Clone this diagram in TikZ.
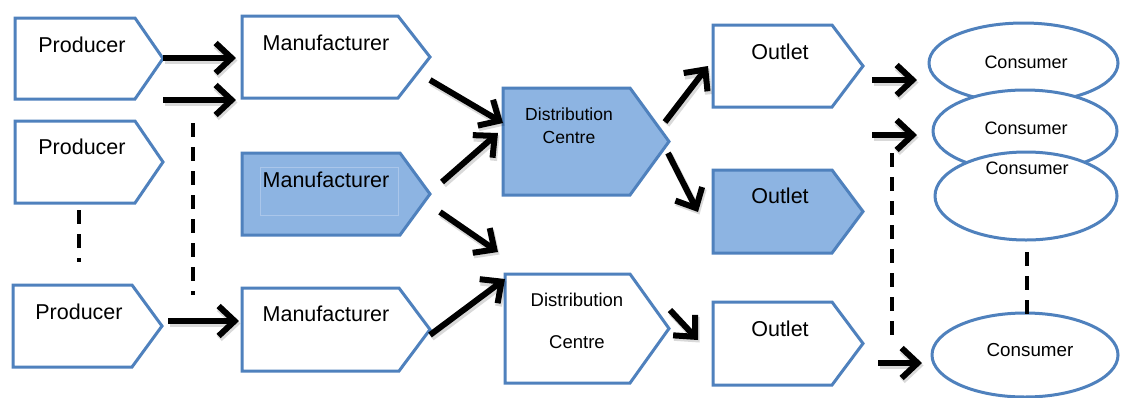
\documentclass[tikz,border=0pt]{standalone}
\usepackage{fontspec}
\setmainfont{Liberation Sans}
\usetikzlibrary{arrows.meta}

\definecolor{boxline}{RGB}{79,129,189}
\definecolor{boxfill}{RGB}{141,180,226}
\definecolor{innerline}{RGB}{170,198,234}

% pentagon "chevron" box: style, left, top, shoulder x, tip x, bottom
\newcommand\chevbox[6]{%
  \draw[#1] (#2,#3) -- (#4,#3) -- (#5,{(#3+#6)/2}) -- (#4,#6) -- (#2,#6) -- cycle;}

% thick flow arrow with a soft shadow
\newcommand\flow[2]{%
  \draw[flowshadow] ([shift={(1.5,2.5)}]#1) -- ([shift={(1.5,2.5)}]#2);
  \draw[flowarrow] (#1) -- (#2);}

\tikzset{
  plainbox/.style={draw=boxline, line width=3pt, fill=white, line join=miter},
  shadedbox/.style={draw=boxline, line width=3pt, fill=boxfill, line join=miter},
  consumer/.style={draw=boxline, line width=3pt, fill=white},
  flowarrow/.style={line width=6pt, -{Straight Barb[length=16pt,width=30pt]}},
  flowshadow/.style={line width=7pt, draw=black, opacity=0.15,
    -{Straight Barb[length=16pt,width=30pt]}},
  continues/.style={line width=4pt, dash pattern=on 14pt off 10pt},
  bigtxt/.style={font=\fontsize{21.5}{24}\selectfont, inner sep=0pt},
  midtxt/.style={font=\fontsize{18}{22}\selectfont, inner sep=0pt, align=center},
}

\begin{document}
\begin{tikzpicture}[x=1pt, y=-1pt]
\useasboundingbox (0,0) rectangle (1123,397);
\fill[white] (0,0) rectangle (1123,397);

% producers
\chevbox{plainbox}{15}{18}{135}{163}{99}
\chevbox{plainbox}{15}{121}{135}{163}{203}
\chevbox{plainbox}{13}{285}{132}{162}{367}
\node[bigtxt] (prod1) at (82,45) {Producer};
\node[bigtxt] (prod2) at (82,147) {Producer};
\node[bigtxt] (prod3) at (79,312) {Producer};

% manufacturers
\chevbox{plainbox}{242}{16}{398}{430}{98}
\chevbox{shadedbox}{242}{153}{400}{430}{235}
\chevbox{plainbox}{242}{288}{399}{430}{371}
\draw[innerline, line width=1pt] (260,167) rectangle (398,215);
\node[bigtxt] (man1) at (326,43) {Manufacturer};
\node[bigtxt] (man2) at (326,180) {Manufacturer};
\node[bigtxt] (man3) at (326,314) {Manufacturer};

% distribution centres
\chevbox{shadedbox}{503}{88}{630}{669}{195}
\chevbox{plainbox}{505}{274}{630}{669}{383}
\node[midtxt, font=\fontsize{17.5}{23}\selectfont] (dc1) at (569,125.5)
  {Distribution\\Centre};
\node[midtxt, font=\fontsize{18.5}{42}\selectfont] (dc2) at (577,321)
  {Distribution\\Centre};

% outlets
\chevbox{plainbox}{713}{25}{832}{863}{107}
\chevbox{shadedbox}{713}{170}{832}{863}{253}
\chevbox{plainbox}{713}{302}{832}{863}{385}
\node[bigtxt] (out1) at (780,52) {Outlet};
\node[bigtxt] (out2) at (780,196) {Outlet};
\node[bigtxt] (out3) at (780,329) {Outlet};

% consumers, stacked so each one covers the lower edge of the one above
\draw[consumer] (1023.5,63) ellipse [x radius=94.5, y radius=40];
\draw[consumer] (1025,131) ellipse [x radius=92, y radius=41];
\draw[consumer] (1026,196) ellipse [x radius=91, y radius=44];
\draw[consumer] (1025,355) ellipse [x radius=93, y radius=42];
\node[midtxt] (con1) at (1026,62) {Consumer};
\node[midtxt] (con2) at (1026,128) {Consumer};
\node[midtxt] (con3) at (1027,168) {Consumer};
\node[midtxt, font=\fontsize{18.8}{22}\selectfont] (con4) at (1030,350) {Consumer};

% connector end points
\coordinate (p1a) at (163,58);   \coordinate (m1a) at (236,58);
\coordinate (p1b) at (163,100);  \coordinate (m1b) at (236,100);
\coordinate (p3a) at (168,321);  \coordinate (m3a) at (239,321);
\coordinate (m1c) at (430,80);   \coordinate (d1a) at (503,123);
\coordinate (m2a) at (442,182);  \coordinate (d1b) at (498,133);
\coordinate (m2b) at (440,212);  \coordinate (d2x) at (498,252);
\coordinate (m3b) at (430,335);  \coordinate (d2a) at (505,279);
\coordinate (d1c) at (665,122);  \coordinate (o1a) at (708,66);
\coordinate (d1d) at (668,153);  \coordinate (o2a) at (698,212);
\coordinate (d2b) at (670,310);  \coordinate (o3a) at (698,340);
\coordinate (o1b) at (872,80);   \coordinate (c1a) at (917,80);
\coordinate (o1c) at (872,135);  \coordinate (c2a) at (917,135);
\coordinate (o3b) at (878,363);  \coordinate (c4a) at (922,363);

% flows
\flow{p1a}{m1a}
\flow{p1b}{m1b}
\flow{p3a}{m3a}
\flow{m1c}{d1a}
\flow{m2a}{d1b}
\flow{m2b}{d2x}
\flow{m3b}{d2a}
\flow{d1c}{o1a}
\flow{d1d}{o2a}
\flow{d2b}{o3a}
\flow{o1b}{c1a}
\flow{o1c}{c2a}
\flow{o3b}{c4a}

% dashed "and so on" links
\coordinate (k1a) at (79,210);    \coordinate (k1b) at (79,262);
\coordinate (k2a) at (193,123);   \coordinate (k2b) at (193,295);
\coordinate (k3a) at (892,153);   \coordinate (k3b) at (892,343);
\coordinate (k4a) at (1027,252);  \coordinate (k4b) at (1027,317);
\draw[continues] (k1a) -- (k1b);
\draw[continues] (k2a) -- (k2b);
\draw[continues] (k3a) -- (k3b);
\draw[continues] (k4a) -- (k4b);
\end{tikzpicture}
\end{document}
